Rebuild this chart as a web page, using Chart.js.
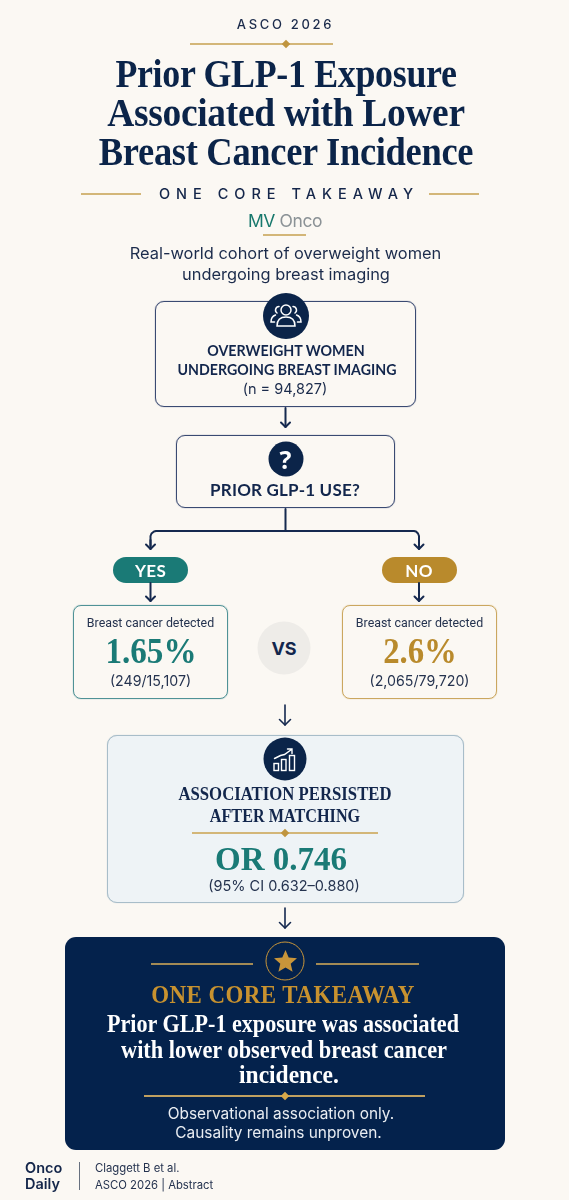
<!DOCTYPE html>
<html><head><meta charset="utf-8">
<script src="https://cdn.jsdelivr.net/npm/chart.js@4"></script>
<style>
html,body{margin:0;padding:0;background:#fbf8f3}
#page{position:relative;width:569px;height:1200px;overflow:hidden;background:#fbf8f3}
#flow{position:absolute;left:0;top:0;z-index:2}
.box,.t,.r,.d,.c{position:absolute;box-sizing:border-box}
.t{transform:translate(-50%,-50%) scaleX(var(--sx,1));white-space:nowrap;z-index:3;line-height:1}
.s{font-family:"Liberation Serif",serif;font-weight:700}
.i{font-family:Inter,"Noto Sans",sans-serif;font-weight:400}
.b{font-family:Roboto,sans-serif;font-weight:400}
.f{font-family:Lato,sans-serif;font-weight:700}
.d{width:7px;height:7px;transform:translate(-50%,-50%) rotate(45deg);background:#c0953f;z-index:3}
.c{border-radius:50%;transform:translate(-50%,-50%);z-index:3;display:flex;align-items:center;justify-content:center}
svg{display:block}
</style></head><body>
<div id="page"><canvas id="flow" width="569" height="1200"></canvas></div>
<script>
// ---- chart values ----
const arms = ['YES', 'NO'];
const detectedPct = [1.65, 2.6];
const detectedCounts = ['249/15,107', '2,065/79,720'];
const cohortN = '94,827';
const oddsRatio = 0.746;
const ciBounds = ['0.632', '0.880'];
const headerLines = ['Prior GLP-1 Exposure', 'Associated with Lower', 'Breast Cancer Incidence'];
const takeawayLines = ['Prior GLP-1 exposure was associated', 'with lower observed breast cancer', 'incidence.'];

const NAVY = '#0b2449', TEAL = '#1a7a76', GOLD = '#b98a2c', RULE = '#c9a45c';
const page = document.getElementById('page');
function el(cls, css, html) {
  const e = document.createElement('div');
  e.className = cls; e.style.cssText = css;
  if (html !== undefined) e.innerHTML = html;
  page.appendChild(e); return e;
}
function text(str, x, y, size, cls, color, sx, extra) {
  return el('t ' + cls, `left:${x}px;top:${y}px;font-size:${size}px;color:${color};--sx:${sx || 1};${extra || ''}`, str);
}
function rule(x1, x2, y, color, h) {
  el('r', `left:${x1}px;top:${y - (h || 2) / 2}px;width:${x2 - x1}px;height:${h || 2}px;background:${color};z-index:3`);
}
function box(x1, y1, x2, y2, r, border, bg) {
  el('box', `left:${x1}px;top:${y1}px;width:${x2 - x1}px;height:${y2 - y1}px;border-radius:${r}px;border:1px solid ${border};box-shadow:0 0 1px ${border};background:${bg || 'transparent'};z-index:1`);
}
function circle(x, y, r, bg, html, extra) {
  el('c', `left:${x}px;top:${y}px;width:${2 * r}px;height:${2 * r}px;background:${bg};${extra || ''}`, html || '');
}

// header
text('ASCO 2026', 285.5, 24, 13, 'i', '#1b2b4b', 1, 'letter-spacing:2.7px;font-weight:500');
rule(190, 333, 43.5, '#d3b678');
el('d', 'left:285.5px;top:43.5px;width:6px;height:6px');
const titleScale = [0.897, 0.937, 0.912];
[74, 113, 152].forEach((y, i) => text(headerLines[i], 286, y, 40, 's', NAVY, titleScale[i], 'letter-spacing:-0.35px'));
text('ONE CORE TAKEAWAY', 289, 194, 14.5, 'i', '#14264a', 1, 'letter-spacing:6px;font-weight:500;');
rule(81, 141, 194, '#d3b678'); rule(429, 479, 194, '#d3b678');
el('t i', 'left:285px;top:221px;font-size:17.5px;letter-spacing:-0.4px', `<span style="color:#17786c">MV</span> <span style="color:#8b9296">Onco</span>`);
rule(263, 306, 235, '#d3b678');
text('Real-world cohort of overweight women', 285.5, 253, 16.4, 'i', '#1b2b4b');
text('undergoing breast imaging', 286, 274, 16.4, 'i', '#1b2b4b');

// cohort node
box(155, 301, 416, 407, 9, '#3a4a72');
const people = `<svg width="32" height="30" viewBox="0 0 32 30" fill="none" stroke="#fff" stroke-width="1.5" stroke-linecap="round"><circle cx="16" cy="9" r="5"/><path d="M7 25c0-6 3-9 9-9s9 3 9 9z"/><path d="M9 5.5a3.6 3.6 0 0 0-2 6.5M23 5.5a3.6 3.6 0 0 1 2 6.5M5.5 14C2.500 15 1 18 1 21h3.500M26.500 14C29.500 15 31 18 31 21h-3.500"/></svg>`;
circle(285.5, 316, 23, NAVY, people);
text('OVERWEIGHT WOMEN', 285.5, 351, 15.5, 'f', '#12264c', 0.92);
text('UNDERGOING BREAST IMAGING', 287, 369.5, 15.5, 'f', '#12264c', 0.916);
text(`(n = ${cohortN})`, 285, 389, 14.5, 'i', '#1b2b4b');

// question node
box(176, 435, 395, 508, 9, '#3a4a72');
circle(285.5, 459, 17.5, NAVY, '<span style="color:#fff;font:700 25px \'Open Sans\',sans-serif;line-height:1">?</span>');
text('PRIOR GLP-1 USE?', 285, 489, 17, 'f', '#12264c', 1, 'letter-spacing:0.2px');

// arms
const armX = [150.5, 419], armColor = [TEAL, GOLD], armBorder = ['#4f9296', '#cba75f'], pctScale = [0.92, 0.91];
arms.forEach((a, i) => {
  const x = armX[i];
  el('box', `left:${x - 37.5}px;top:557px;width:75px;height:26px;border-radius:13px;background:${armColor[i]};z-index:1`);
  text(a, x, 570, 17, 'f', '#fff', 1, 'letter-spacing:.3px');
  const bx = i ? 342 : 73;
  box(bx, 605, bx + 155, 699, 8, armBorder[i]);
  text('Breast cancer detected', bx + 77.5, 623, 12.4, 'b', '#25334f');
  text(detectedPct[i] + '%', bx + 77.5, 651, 36, 's', armColor[i], pctScale[i]);
  text(`(${detectedCounts[i]})`, bx + 77.5, 681, 14.2, 'i', '#25334f');
});
circle(284, 648, 26.5, '#eeece8', '<span style="color:#12264c;font:700 18px Inter,sans-serif">VS</span>');

// matching node
box(107, 735, 464, 903, 10, '#a8bdc9', '#eef3f6');
const bars = `<svg width="26" height="26" viewBox="0 0 26 26" fill="none" stroke="#fff" stroke-width="1.4" stroke-linecap="round"><rect x="1.500" y="17" width="4.500" height="7"/><rect x="9" y="13" width="4.500" height="11"/><rect x="17" y="9" width="5" height="15"/><path d="M2 12l6-3 4-1 7-5M15 2.500h4.500V7"/></svg>`;
circle(285, 759, 21.5, NAVY, bars);
text('ASSOCIATION PERSISTED', 285, 794, 18, 's', '#12264c', 0.93);
text('AFTER MATCHING', 284.5, 816, 18, 's', '#12264c', 0.9);
rule(192, 378, 833, '#d3b678');
el('d', 'left:285px;top:833px;width:6px;height:6px');
text('OR ' + oddsRatio, 281, 859, 33, 's', TEAL);
text(`(95% CI ${ciBounds[0]}–${ciBounds[1]})`, 284, 886, 14.5, 'i', '#25334f');

// takeaway node
el('box', `left:65px;top:937px;width:440px;height:213px;border-radius:11px;background:#04224c;z-index:1`);
rule(151, 253, 964, '#a38a55'); rule(316, 419, 964, '#a38a55');
const star = `<svg width="26" height="26" viewBox="0 0 26 26"><path d="M13 1.500l3.200 7.600 8.300.700-6.300 5.400 1.900 8.100-7.100-4.300-7.100 4.300 1.900-8.100L1.500 9.800l8.300-.7z" fill="#c8953a"/></svg>`;
circle(285, 961, 19.5, 'transparent', star, 'border:1.5px solid #c8953a');
text('ONE CORE TAKEAWAY', 283, 995, 25.5, 's', '#c8922f', 0.9, 'letter-spacing:.5px');
const takeScale = [0.885, 0.895, 0.94], takeX = [283, 284, 288.5];
[1023, 1049, 1074].forEach((y, i) => text(takeawayLines[i], takeX[i], y, 25, 's', '#fff', takeScale[i]));
rule(144, 425, 1096, '#c0a060');
el('d', 'left:285px;top:1096px;width:6px;height:6px;background:#d8a94a');
text('Observational association only.', 281, 1114, 15.4, 'i', '#e9edf2');
text('Causality remains unproven.', 278.5, 1133, 15.4, 'i', '#e9edf2');

// footer
el('t', 'left:25px;top:1168px;transform:translate(0,-50%);font:600 14.5px Inter,sans-serif;color:#14264a;line-height:1', 'Onco');
el('t', 'left:25px;top:1184px;transform:translate(0,-50%);font:600 14.5px Inter,sans-serif;color:#14264a;line-height:1', 'Daily');
el('r', 'left:78.5px;top:1162px;width:1px;height:28px;background:#67707f;z-index:3');
el('t', 'left:95px;top:1169px;transform:translate(0,-50%);font:400 11.3px Inter,sans-serif;color:#25334f;line-height:1', 'Claggett B et al.');
el('t', 'left:95px;top:1186px;transform:translate(0,-50%);font:400 11.3px Inter,sans-serif;color:#25334f;line-height:1', 'ASCO 2026 | Abstract');

// connectors, drawn through the chart's own scales
function polyline(pts, w) {
  return { type: 'line', data: pts.map(p => ({ x: p[0], y: p[1] })), borderColor: '#15294f', borderWidth: w || 2,
    pointRadius: 0, fill: false, tension: 0, borderCapStyle: 'round', borderJoinStyle: 'round', parsing: false };
}
function arrow(x, y1, y2, w, hw) {
  const h = hw || 4.5;
  return [polyline([[x, y1], [x, y2]], w), polyline([[x - h, y2 - h], [x, y2], [x + h, y2 - h]], w)];
}
const sets = [
  ...arrow(285.5, 408, 427, 2),
  polyline([[285.5, 509], [285.5, 531]], 2),
  polyline([[150.5, 546], [150.5, 536], [151.5, 533.5], [154, 531.5], [156, 531], [414, 531], [416, 531.5], [418, 533.5], [419, 536], [419, 546]], 2),
  ...arrow(150.5, 540, 549, 2),
  ...arrow(419, 540, 549, 2),
  ...arrow(150.5, 583, 601, 2),
  ...arrow(419, 583, 601, 2),
  ...arrow(285, 705, 725, 1.6, 5.5),
  ...arrow(285, 908, 928, 1.6, 5.5)
];
new Chart(document.getElementById('flow'), {
  type: 'line',
  data: { datasets: sets },
  options: {
    responsive: false, animation: false, events: [],
    layout: { padding: 0 },
    plugins: { legend: { display: false }, tooltip: { enabled: false }, title: { display: false } },
    scales: {
      x: { type: 'linear', min: 0, max: 569, display: false },
      y: { type: 'linear', min: 0, max: 1200, reverse: true, display: false }
    }
  }
});
</script>
</body></html>
